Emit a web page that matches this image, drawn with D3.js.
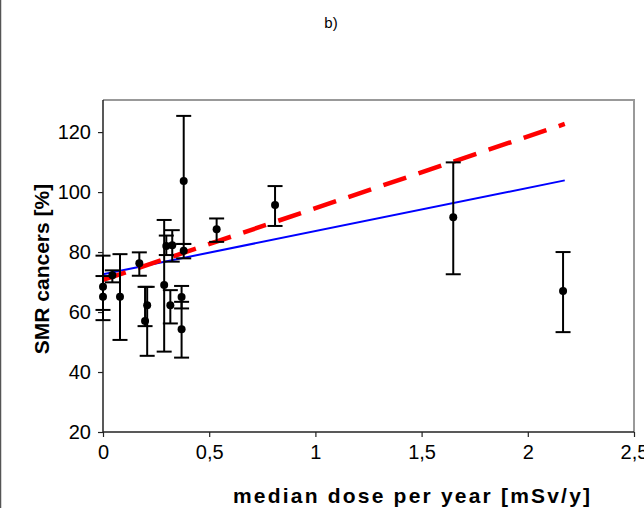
<!DOCTYPE html>
<html>
<head>
<meta charset="utf-8">
<script src="https://cdn.jsdelivr.net/npm/d3@7"></script>
<style>
  body { margin: 0; background: #fff; }
  svg { display: block; font-family: Arial, "Liberation Sans", sans-serif; }
</style>
</head>
<body>
<svg id="chart" width="644" height="508"></svg>
<script>
// dose (mSv/y), SMR (%), error bar low / high
const dose  = [0.00, 0.00, 0.044, 0.08, 0.171, 0.208, 0.198, 0.288, 0.298, 0.326, 0.317, 0.37, 0.37, 0.38, 0.38, 0.535, 0.81, 1.649, 2.166];
const smr   = [68.4, 65.1, 72.3, 65.1, 76.3, 62.3, 57.0, 69.0, 82.0, 82.3, 62.3, 65.0, 54.3, 103.7, 80.4, 87.6, 95.7, 91.6, 67.0];
const errLo = [60.7, 57.3, 69.9, 50.7, 72.1, 45.4, 55.3, 46.8, 79.0, 76.8, 56.2, 61.2, 44.8, 82.7, 77.9, 83.4, 88.7, 72.6, 53.3];
const errHi = [78.8, 72.0, 73.9, 79.3, 79.9, 68.4, 68.4, 90.7, 85.5, 87.3, 67.3, 68.7, 63.4, 125.4, 82.7, 91.2, 102.0, 109.9, 80.0];

// fitted lines, given by their end points
const fitX     = [0, 2.174];
const fitBlue  = [72.6, 103.9];
const fitRed   = [70.7, 122.7];

const xTicks = [0, 0.5, 1, 1.5, 2, 2.5];
const yTicks = [20, 40, 60, 80, 100, 120];

const svg = d3.select("#chart");

const x = d3.scaleLinear().domain([0, 2.5]).range([103, 634]);
const y = d3.scaleLinear().domain([20, 130.7]).range([432, 100]);

// outer left edge line
svg.append("line")
  .attr("x1", 0.5).attr("x2", 0.5)
  .attr("y1", 0).attr("y2", 508)
  .attr("stroke", "#555").attr("stroke-width", 1.5);

// title
svg.append("text")
  .attr("x", 331).attr("y", 28)
  .attr("text-anchor", "middle")
  .style("font-size", "15px")
  .text("b)");

// plot frame (gray top and right)
svg.append("path")
  .attr("d", `M${x(0)},${y(130.7)} H${x(2.5)} V${y(20)}`)
  .attr("fill", "none")
  .attr("stroke", "#999")
  .attr("stroke-width", 2);

// axes
const xAxis = d3.axisBottom(x)
  .tickValues(xTicks)
  .tickSize(5)
  .tickFormat(d => String(d).replace(".", ","));

const yAxis = d3.axisLeft(y)
  .tickValues(yTicks)
  .tickSize(5);

const gx = svg.append("g")
  .attr("transform", `translate(0,${y(20)})`)
  .call(xAxis);

const gy = svg.append("g")
  .attr("transform", `translate(${x(0)},0)`)
  .call(yAxis);

[gx, gy].forEach(g => {
  g.select(".domain").attr("stroke", "#222").attr("stroke-width", 1.5);
  g.selectAll(".tick line").attr("stroke", "#222").attr("stroke-width", 1.2);
  g.selectAll("text").style("font-size", "20px").attr("fill", "#000");
});
gx.select(".domain").attr("d", `M${x(0)},0H${x(2.5)}`);
gy.select(".domain").attr("d", `M0,${y(130.7)}V${y(20)}`);
gx.selectAll("text").attr("dy", "1em").attr("y", 7);
gy.selectAll("text").attr("x", -12);

// axis titles
svg.append("text")
  .attr("x", 233).attr("y", 503)
  .style("font-size", "21px")
  .style("font-weight", "bold")
  .style("letter-spacing", "2.2px")
  .text("median dose per year [mSv/y]");

svg.append("text")
  .attr("transform", "translate(49,269) rotate(-90)")
  .attr("text-anchor", "middle")
  .style("font-size", "21px")
  .style("font-weight", "bold")
  .text("SMR cancers [%]");

// fit lines
const line = d3.line().x(d => x(d[0])).y(d => y(d[1]));

svg.append("path")
  .datum(fitX.map((v, i) => [v, fitBlue[i]]))
  .attr("d", line)
  .attr("fill", "none")
  .attr("stroke", "#0000ff")
  .attr("stroke-width", 2);

svg.append("path")
  .datum(fitX.map((v, i) => [v, fitRed[i]]))
  .attr("d", line)
  .attr("fill", "none")
  .attr("stroke", "#ff0000")
  .attr("stroke-width", 4.5)
  .attr("stroke-dasharray", "24,13");

// error bars
const pts = dose.map((d, i) => ({ x: d, y: smr[i], lo: errLo[i], hi: errHi[i] }));
const capW = 7.5;

const eb = svg.append("g")
  .attr("stroke", "#000")
  .attr("stroke-width", 2);

eb.selectAll("line.v")
  .data(pts)
  .enter()
  .append("line")
  .attr("class", "v")
  .attr("x1", d => x(d.x)).attr("x2", d => x(d.x))
  .attr("y1", d => y(d.lo)).attr("y2", d => y(d.hi));

eb.selectAll("line.lo")
  .data(pts)
  .enter()
  .append("line")
  .attr("class", "lo")
  .attr("x1", d => x(d.x) - capW).attr("x2", d => x(d.x) + capW)
  .attr("y1", d => y(d.lo)).attr("y2", d => y(d.lo));

eb.selectAll("line.hi")
  .data(pts)
  .enter()
  .append("line")
  .attr("class", "hi")
  .attr("x1", d => x(d.x) - capW).attr("x2", d => x(d.x) + capW)
  .attr("y1", d => y(d.hi)).attr("y2", d => y(d.hi));

// points
svg.selectAll("circle")
  .data(pts)
  .enter()
  .append("circle")
  .attr("cx", d => x(d.x))
  .attr("cy", d => y(d.y))
  .attr("r", 4)
  .attr("fill", "#000");
</script>
</body>
</html>
